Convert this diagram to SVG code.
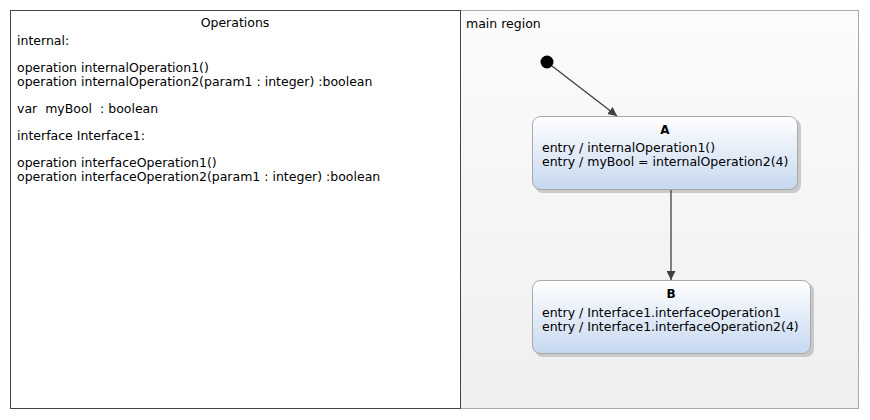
<svg xmlns="http://www.w3.org/2000/svg" width="870" height="420" viewBox="0 0 870 420">
<style>
text{font-family:"DejaVu Sans","Liberation Sans",sans-serif;font-size:12.5px;fill:#000}
.b{font-weight:bold;text-anchor:middle;font-size:12px}
.st{stroke:#a8a8a8;stroke-width:1}
.edge{stroke:#404040;stroke-width:1.3;fill:none}
</style>
<defs>
<linearGradient id="rg" x1="0" y1="0" x2="0" y2="1"><stop offset="0" stop-color="#fbfbfb"/><stop offset="1" stop-color="#efefef"/></linearGradient>
<linearGradient id="sg" x1="0" y1="0" x2="0" y2="1"><stop offset="0" stop-color="#ffffff"/><stop offset="1" stop-color="#c6d8f0"/></linearGradient>
<marker id="ah" viewBox="0 0 10 10" refX="10" refY="5" markerWidth="9" markerHeight="9" markerUnits="userSpaceOnUse" orient="auto"><path d="M0,0 L10,5 L0,10 z" fill="#404040"/></marker>
</defs>
<g id="operations">
<rect x="10.5" y="10.5" width="450" height="398" fill="#fff" stroke="#444"/>
<text x="235" y="27" text-anchor="middle">Operations</text>
<text x="17" y="45">internal:</text>
<text x="17" y="72">operation internalOperation1()</text>
<text x="17" y="86">operation internalOperation2(param1 : integer) :boolean</text>
<text x="17" y="113" xml:space="preserve">var  myBool  : boolean</text>
<text x="17" y="140">interface Interface1:</text>
<text x="17" y="167">operation interfaceOperation1()</text>
<text x="17" y="181">operation interfaceOperation2(param1 : integer) :boolean</text>
</g>
<g id="main_region">
<rect x="460.5" y="10.5" width="398" height="398" fill="url(#rg)" stroke="#aaa"/>
<line x1="460.5" y1="10" x2="460.5" y2="409" stroke="#444"/>
<text x="466" y="28">main region</text>
</g>
<g id="initial">
<circle cx="547" cy="62" r="6.5" fill="#000"/>
</g>
<g id="state_A">
<rect x="535" y="119" width="266" height="74" rx="8" fill="#b8b8b8" opacity="0.7"/>
<rect x="532.5" y="116.5" width="265" height="73" rx="8" fill="url(#sg)" class="st"/>
<text x="665" y="134" class="b">A</text>
<text x="542" y="152">entry / internalOperation1()</text>
<text x="542" y="166">entry / myBool = internalOperation2(4)</text>
</g>
<g id="state_B">
<rect x="535" y="283" width="279" height="74" rx="8" fill="#b8b8b8" opacity="0.7"/>
<rect x="532.5" y="280.5" width="278" height="73" rx="8" fill="url(#sg)" class="st"/>
<text x="671" y="298" class="b">B</text>
<text x="542" y="317">entry / Interface1.interfaceOperation1</text>
<text x="542" y="331">entry / Interface1.interfaceOperation2(4)</text>
</g>
<g id="connectors">
<line x1="552" y1="66" x2="617" y2="116" class="edge" marker-end="url(#ah)"/>
<line x1="671" y1="190" x2="671" y2="280" class="edge" marker-end="url(#ah)"/>
</g>
</svg>
